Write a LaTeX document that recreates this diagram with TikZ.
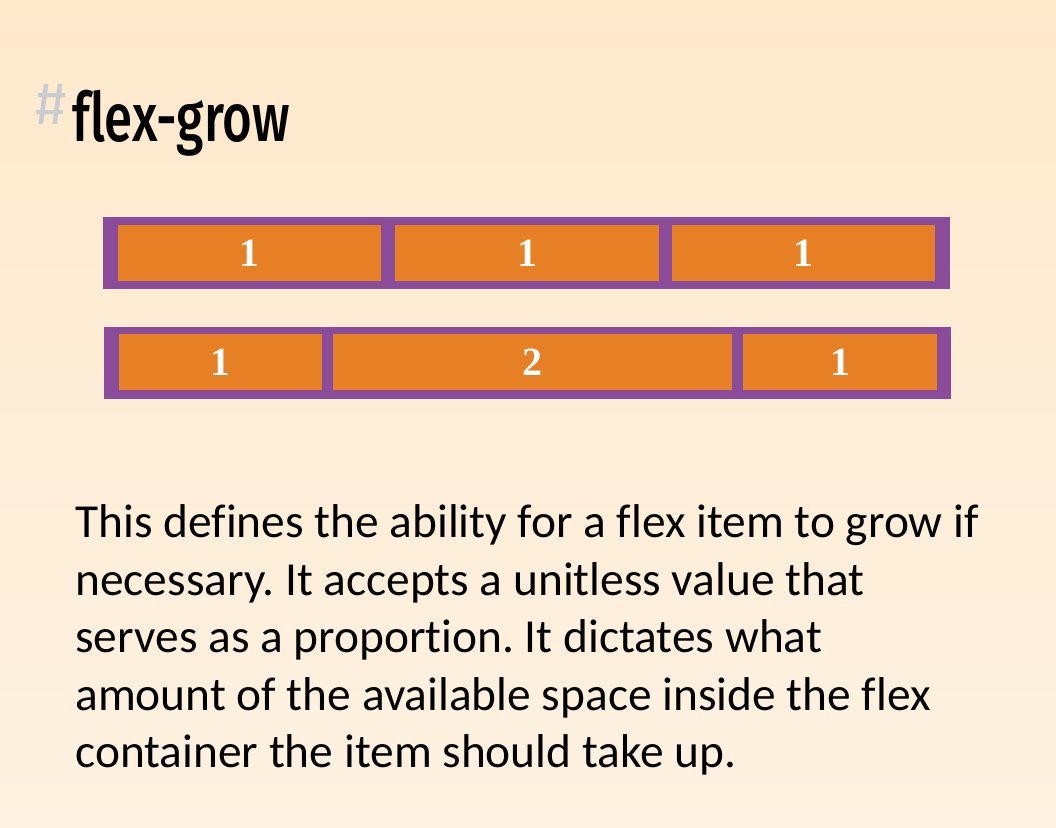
\documentclass[tikz,border=0pt]{standalone}
\usepackage{fontspec}
\setmainfont{Liberation Serif}
\newfontfamily\titlefont[FakeStretch=0.75, Ligatures=NoCommon]{Fira Sans Medium}
\newfontfamily\hashfont{Fira Sans}
\newfontfamily\bodyfont[Ligatures=NoCommon]{Carlito}
\usetikzlibrary{positioning}

\definecolor{pagetop}{HTML}{FEE9CB}
\definecolor{pagebottom}{HTML}{FEF2E2}
\definecolor{flexpurple}{HTML}{8A4B9B}
\definecolor{flexorange}{HTML}{E78024}
\definecolor{hashgrey}{HTML}{C9CDD2}

\begin{document}
\frenchspacing
\begin{tikzpicture}[x=0.5pt, y=-0.5pt,
  item/.style={fill=flexorange, text=white, inner sep=0pt, minimum height=28pt,
    font=\bfseries\fontsize{20}{20}\selectfont},
  bodyline/.style={anchor=base west, inner sep=0pt, font=\bodyfont\fontsize{23.7}{28}\selectfont}]
\shade[top color=pagetop, bottom color=pagebottom] (0,0) rectangle (1056,828);
\useasboundingbox (0,0) rectangle (1056,828);
\node[anchor=base west, inner sep=0pt, text=hashgrey, font=\hashfont\fontsize{30}{30}\selectfont] (hash) at (35,125) {\#};
\node[anchor=base west, inner sep=0pt, font=\titlefont\fontsize{34}{34}\selectfont] (title) at (72,142) {flex-grow};
% first container: all items grow 1
\fill[flexpurple] (103,217) rectangle (950,289);
\node[item, minimum width=131.5pt] (a1) at (249.5,253) {1};
\node[item, minimum width=132pt] (a2) at (527,253) {1};
\node[item, minimum width=131.5pt] (a3) at (803.5,253) {1};
% second container: middle item grows 2
\fill[flexpurple] (104,327) rectangle (951,399);
\node[item, minimum width=101.5pt] (b1) at (220.5,362.5) {1};
\node[item, minimum width=199.5pt] (b2) at (532.5,362.5) {2};
\node[item, minimum width=97pt] (b3) at (840,362.5) {1};
\node[bodyline] (l1) at (75,538) {This defines the ability for a flex item to grow if};
\node[bodyline] (l2) at (75,596) {necessary. It accepts a unitless value that};
\node[bodyline] (l3) at (75,653) {serves as a proportion. It dictates what};
\node[bodyline] (l4) at (75,711) {amount of the available space inside the flex};
\node[bodyline] (l5) at (75,768) {container the item should take up.};
\end{tikzpicture}
\end{document}
